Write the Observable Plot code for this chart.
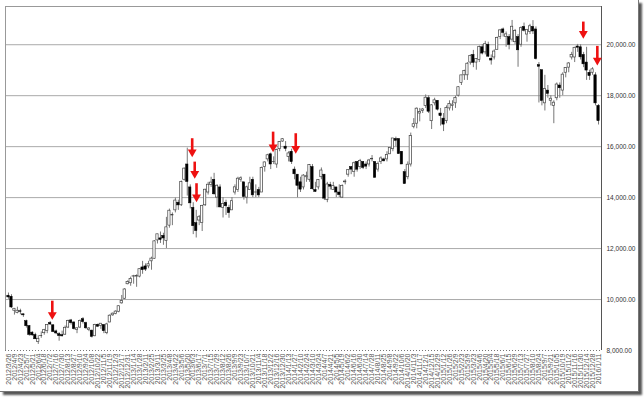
<!DOCTYPE html>
<html>
<head>
<meta charset="utf-8">
<script src="https://cdn.jsdelivr.net/npm/d3@7"></script>
<script src="https://cdn.jsdelivr.net/npm/@observablehq/plot@0.6"></script>
<style>
  html, body { margin: 0; padding: 0; background: #fff; }
  #wrap { position: relative; width: 644px; height: 400px; overflow: hidden; }
  #wrap svg { position: absolute; left: 0; top: 0; }
  #frame { position: absolute; left: 0; top: 0; width: 638px; height: 391px;
           border-right: 1px solid #777; border-bottom: 1px solid #777;
           box-shadow: 3px 3px 2px #555; pointer-events: none; }
</style>
</head>
<body>
<div id="wrap"><div id="frame"></div></div>
<script>
// Weekly candles (week start Mondays), 2012/3/26 .. 2016/1/11
const dates = d3.utcMonday.range(new Date(Date.UTC(2012, 2, 26)), new Date(Date.UTC(2016, 0, 12)))
  .map(d3.utcFormat("%Y/%-m/%-d"));

const opens = [
10150,10110,9560,9470,9540,9420,9150,8960,8700,8610,8330,8570,8680,8760,9080,8990,8750,8640,8600,8620,
8900,9180,9100,8800,8900,9230,9080,8800,8780,8560,9010,8960,9000,8680,9100,9380,9440,9520,9850,10030,
10600,10640,10900,10900,10900,11260,11300,11300,11500,11600,12320,12400,12500,12300,12900,13300,13500,13800,13700,14700,
15300,14400,13600,13000,13100,13000,13700,14200,14500,14700,14000,14400,13600,13800,13600,13500,14200,14300,14700,14600,
14000,14300,14700,14200,14300,14200,15200,15500,15700,15400,15300,15900,16200,16000,15600,15800,15100,14900,14600,14400,
14800,14700,15200,14300,14400,14800,14900,13900,14500,14300,14400,14200,14000,14600,14900,15200,15000,15400,15200,15400,
15300,15300,15500,15400,15100,15400,15500,15500,15700,15900,16300,16300,15800,15000,14800,15300,16780,16900,17300,17400,
17600,17900,17000,17700,17800,17300,17100,17000,17500,17600,17700,18000,18500,18800,18800,19300,19600,19300,19400,19900,
19700,20000,19450,19500,19800,20300,20600,20300,20300,20200,20100,20300,20000,20700,20400,20500,20700,20600,19200,19000,
17700,18200,17800,17600,17900,18400,18200,18900,19100,19500,19500,19930,19900,19600,19300,18900,18900,18800,17600];
const highs = [
10255,10190,9650,9700,9620,9430,9190,8970,8740,8680,8580,8730,8830,9010,9140,9000,8800,8700,8760,8960,
9190,9220,9130,8880,9200,9290,9110,8900,8800,9030,9040,9060,9010,9070,9400,9470,9560,9750,10160,10430,
10734,10880,10950,10970,11200,11498,11400,11500,11662,12310,12560,12650,12600,13225,13550,13400,13980,13900,14650,15160,
15942,14500,13800,13500,13300,13700,14330,14600,14800,14953,14500,14500,14000,13900,13700,14000,14500,14800,14817,14600,
14450,14800,14800,14500,14400,15200,15400,15700,15750,15600,15900,16200,16320,16200,15800,15900,15200,14900,14800,14900,
15000,15300,15300,14600,14700,15164,14900,14600,14600,14600,14400,14500,14500,14700,15100,15200,15400,15400,15500,15400,
15400,15500,15650,15400,15400,15600,15550,15800,15950,16321,16374,16300,15800,15100,15400,16533,17100,17520,17500,17500,
18030,18000,17650,17900,17800,17500,17300,17600,17800,17800,17980,18350,18800,19000,19300,19600,19778,19450,19950,20006,
20133,20100,19600,19800,20300,20600,20655,20500,20400,20952,20600,20400,20700,20850,20600,20800,20946,20700,19300,19000,
18800,18400,18000,17800,18500,18500,18900,19100,19300,19700,19900,20012,20000,19700,19900,19000,19100,18900,17650];
const lows = [
10010,9650,9390,9440,9400,9300,8880,8560,8560,8430,8238,8480,8600,8660,8980,8700,8620,8365,8530,8600,
8860,9000,8800,8660,8860,9040,8830,8740,8490,8540,8900,8830,8660,8620,9090,9340,9400,9480,9820,10000,
10580,10520,10600,10480,10850,10990,11100,11210,11150,11580,12180,12200,12130,12003,12800,12900,13400,13500,13650,14650,
14060,13555,12548,12415,12900,12669,13650,14100,14400,14100,13600,13600,13200,13300,13188,13500,14100,14200,14600,13900,
13748,14300,14000,14000,14000,14200,15000,15400,15100,15300,15150,15800,16170,15800,15400,15300,14700,13995,14200,14300,
14600,14600,14300,14200,14300,14700,13885,13800,14300,14300,14000,14000,13964,14500,14800,14900,14800,15000,15100,15100,
15100,15200,15400,14753,15000,15300,15400,15400,15700,15800,16000,15700,15300,14529,14700,15200,16700,16700,16973,17300,
17500,17300,16672,17600,17400,16808,16592,16900,17400,17400,17500,17950,18400,18600,18600,19200,19100,19000,19300,19600,
19600,19500,19200,19400,19800,20200,20300,19900,19800,20100,20000,19115,19900,20500,20100,20400,20400,19400,17714,17600,
17400,17900,17600,16901,17800,17900,18000,18700,18900,19400,19300,19700,19400,19100,18600,18600,18800,17600,16850];
const closes = [
10083,9688,9637,9561,9520,9380,8953,8611,8593,8440,8459,8569,8798,9006,9020,8724,8669,8566,8555,8891,
9162,9070,8839,8871,9159,9110,8870,8863,8534,9002,8933,9051,8757,9024,9366,9446,9527,9737,9940,10395,
10688,10801,10913,10926,11191,11153,11173,11385,11606,12283,12560,12338,12397,12833,13485,13316,13884,13694,14607,15138,
14612,13774,12877,12686,13230,13677,14309,14506,14589,14129,14466,13615,13752,13660,13389,13860,14404,14742,14760,14024,
14404,14561,14088,14202,14086,15165,15381,15661,15299,15403,15870,16178,16291,15912,15734,15391,14914,14462,14313,14865,
14841,15274,14327,14224,14696,15063,13960,14516,14429,14457,14199,14097,14462,14632,15077,15097,15349,15095,15437,15164,
15215,15457,15523,14778,15318,15539,15424,15668,15948,16321,16229,15708,15300,14532,15291,16413,16880,17490,17357,17459,
17920,17371,17621,17818,17451,17197,16864,17511,17674,17648,17913,18332,18797,18971,19254,19560,19286,19435,19908,19653,
20020,19531,19380,19733,20264,20563,20461,20407,19990,20706,20540,19780,20650,20545,20585,20724,20519,19435,19136,17792,
18264,18070,17880,17725,18438,18291,18825,19083,19265,19596,19879,19883,19504,19230,18986,18769,19034,17697,17000];

// Red arrow annotations: position (week index), arrow start value, arrow tip value
const arrowWeek = [14.7, 61.65, 62.5, 63.1, 88.8, 96.4, 192.9, 197.6];
const arrowFrom = [9935, 16311, 15393, 14545, 16570, 16507, 20889, 19935];
const arrowTo   = [9205, 15589, 14741, 13822, 15785, 15722, 20237, 19189];

const yTicks = [8000, 10000, 12000, 14000, 16000, 18000, 20000];
const gridValues = [10000, 12000, 14000, 16000, 18000, 20000];
const xTickIdx = d3.range(0, dates.length, 2);

const candles = dates.map((d, i) => ({i, date: d, o: opens[i], h: highs[i], l: lows[i], c: closes[i]}));
const ups = candles.filter(d => d.c >= d.o);
const downs = candles.filter(d => d.c < d.o);
const arrows = arrowWeek.map((x, k) => ({x, from: arrowFrom[k], to: arrowTo[k]}));

const chart = Plot.plot({
  width: 644,
  height: 400,
  marginTop: 6,
  marginBottom: 50,
  marginLeft: 5,
  marginRight: 43,
  style: {fontFamily: "Arial, 'Liberation Sans', sans-serif", background: "transparent", overflow: "visible"},
  x: {domain: [-1, 199], axis: null},
  y: {domain: [8000, 21500], axis: null},
  marks: [
    Plot.ruleY(gridValues, {stroke: "#aaaaaa", strokeWidth: 1}),
    Plot.ruleY([21500], {stroke: "#999999"}),
    Plot.ruleX([-1], {stroke: "#999999"}),
    Plot.ruleX([199], {stroke: "#555555"}),
    Plot.ruleY([8000], {stroke: "#777777", strokeDasharray: "1,2"}),
    Plot.ruleX(candles, {x: "i", y1: "l", y2: "h", stroke: "#777777", strokeWidth: 1}),
    Plot.rect(ups, {x1: d => d.i - 0.38, x2: d => d.i + 0.38, y1: "o", y2: "c", fill: "white", stroke: "#444444", strokeWidth: 0.7}),
    Plot.rect(downs, {x1: d => d.i - 0.4, x2: d => d.i + 0.4, y1: "o", y2: "c", fill: "black", stroke: "black", strokeWidth: 0.5}),
    Plot.ruleX(arrows, {x: "x", y1: "from", y2: "to", stroke: "#ee1111", strokeWidth: 2.6, insetBottom: 6}),
    Plot.dot(arrows, {x: "x", y: "to", symbol: "triangle", rotate: 180, r: 3.3, fill: "#ee1111", stroke: "none", dy: -5.1}),
    Plot.axisY({anchor: "right", ticks: yTicks, tickFormat: d3.format(",.2f"), tickSize: 0, tickPadding: 5, fontSize: 6.5, fill: "#333", textAnchor: "start"}),
    Plot.axisX({anchor: "bottom", ticks: xTickIdx, tickFormat: i => dates[i], tickRotate: -90, tickSize: 0, tickPadding: 3, fontSize: 7, fill: "#555"})
  ]
});
document.getElementById("wrap").insertBefore(chart, document.getElementById("frame"));
</script>
</body>
</html>
